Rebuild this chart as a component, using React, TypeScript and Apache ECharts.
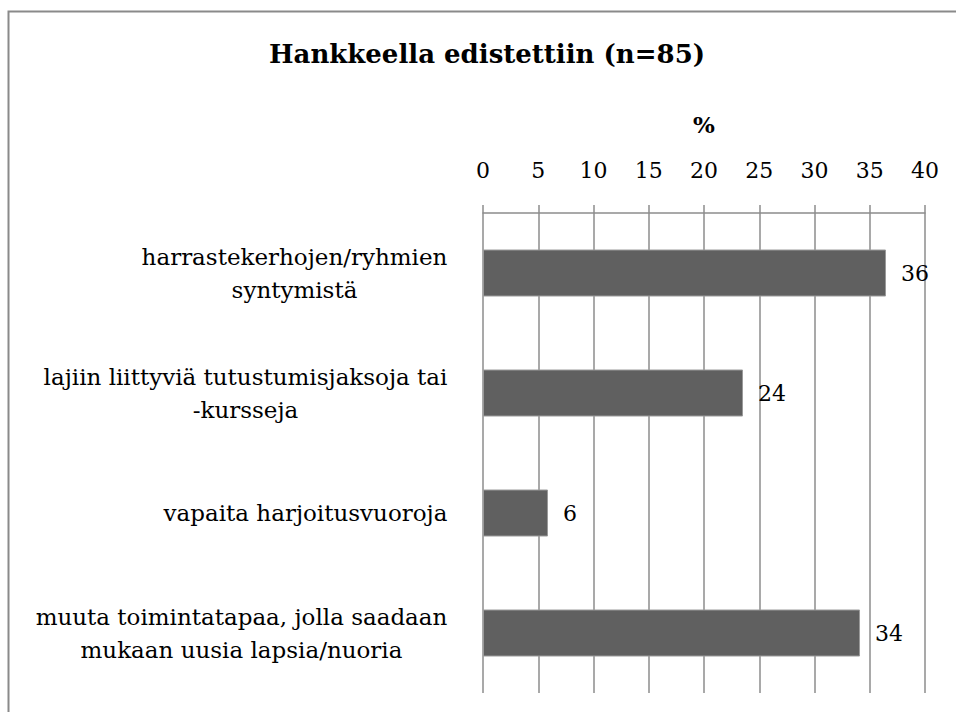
import { useEffect, useRef } from "react";
import * as echarts from "echarts";

const titleText = "Hankkeella edistettiin (n=85)";
const axisName = "%";
const categories = [
  "harrastekerhojen/ryhmien\nsyntymistä",
  "lajiin liittyviä tutustumisjaksoja tai\n-kursseja",
  "vapaita harjoitusvuoroja",
  "muuta toimintatapaa, jolla saadaan\nmukaan uusia lapsia/nuoria",
];
const values = [36.47, 23.53, 5.88, 34.12];
const axisMin = 0;
const axisMax = 40;
const axisStep = 5;

const SERIF = "'DejaVu Serif', serif";
const LABEL_SIZE = 23;
const TICK_SIZE = 22;
const GRID_COLOR = "#8c8c8c";

export default function App() {
  const ref = useRef<HTMLDivElement>(null);
  useEffect(() => {
    if (!ref.current) return;
    const chart = echarts.init(ref.current, null, { renderer: "svg" });
    const ctx = document.createElement("canvas").getContext("2d")!;
    ctx.font = `${LABEL_SIZE}px ${SERIF}`;
    const rich: Record<string, any> = {};
    categories.forEach((c, i) => {
      const w = Math.max(...c.split("\n").map((l) => ctx.measureText(l).width));
      rich["w" + i] = {
        width: Math.ceil(w) + 1,
        align: "center",
        fontFamily: SERIF,
        fontSize: LABEL_SIZE,
        lineHeight: 33,
        color: "#000",
      };
    });
    chart.setOption({
      animation: false,
      backgroundColor: "#fff",
      graphic: [
        {
          type: "rect",
          shape: { x: 8.5, y: 11.5, width: 1200, height: 1200 },
          style: { fill: "none", stroke: "#8a8a8a", lineWidth: 2 },
          z: -1,
        },
        {
          type: "text",
          x: 487,
          y: 54,
          style: {
            text: titleText,
            fontFamily: SERIF,
            fontWeight: "bold",
            fontSize: 26,
            fill: "#000",
            align: "center",
            verticalAlign: "middle",
          },
        },
      ],
      grid: { left: 483, right: 31, top: 213, bottom: 19, containLabel: false },
      xAxis: {
        type: "value",
        position: "top",
        min: axisMin,
        max: axisMax,
        interval: axisStep,
        name: axisName,
        nameLocation: "middle",
        nameGap: 77,
        nameTextStyle: { fontFamily: SERIF, fontWeight: "bold", fontSize: 23, color: "#000" },
        axisLine: { show: true, lineStyle: { color: GRID_COLOR, width: 1.5 } },
        axisTick: { show: true, inside: false, length: 8, lineStyle: { color: GRID_COLOR, width: 1.5 } },
        splitLine: { show: true, lineStyle: { color: GRID_COLOR, width: 1.5 } },
        axisLabel: { fontFamily: SERIF, fontSize: TICK_SIZE, color: "#000", margin: 32 },
      },
      yAxis: {
        type: "category",
        data: categories,
        inverse: true,
        axisLine: { show: false },
        axisTick: { show: false },
        splitLine: { show: false },
        axisLabel: {
          margin: 35,
          align: "right",
          formatter: (v: string, i: number) =>
            v.split("\n").map((l) => `{w${i}|${l}}`).join("\n"),
          rich,
        },
      },
      series: [
        {
          type: "bar",
          data: values,
          barWidth: 47,
          itemStyle: { color: "#606060", borderColor: "#9a9a9a", borderWidth: 1 },
          label: {
            show: true,
            position: "right",
            distance: 15,
            formatter: (p: any) => String(Math.round(p.value)),
            fontFamily: SERIF,
            fontSize: TICK_SIZE,
            color: "#000",
          },
        },
      ],
    });
    return () => chart.dispose();
  }, []);
  return (
    <div
      ref={ref}
      style={{ position: "absolute", left: 0, top: 0, width: 956, height: 712, background: "#fff" }}
    />
  );
}
